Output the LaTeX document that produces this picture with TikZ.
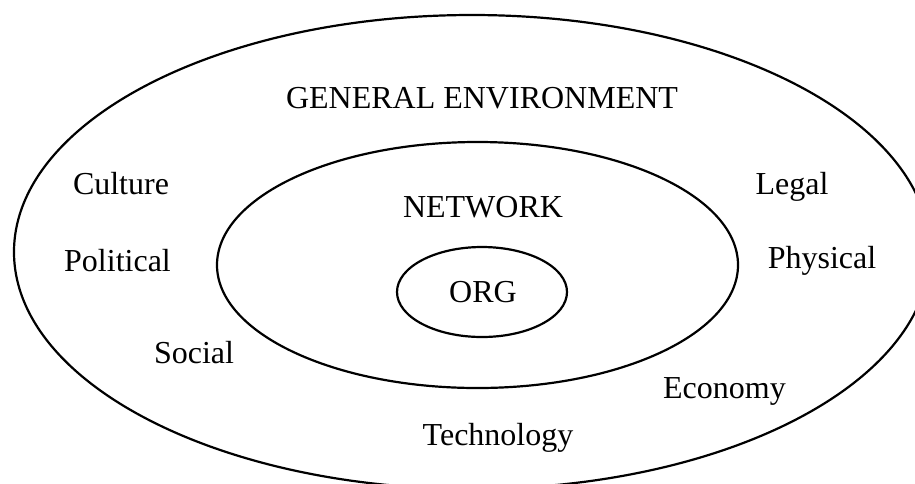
\documentclass[tikz,border=0pt]{standalone}
\usepackage{fontspec}
\setmainfont{Liberation Serif}
\begin{document}
\begin{tikzpicture}[x=1pt, y=-1pt, line width=2.2pt,
  ringtext/.style={anchor=base, inner sep=0pt, font=\fontsize{32}{38}\selectfont}]
  \useasboundingbox (0,0) rectangle (915,483);
  \clip (0,0) rectangle (915,483);

  % Outer ring: general environment
  \begin{scope}
    \draw (472,252) ellipse [x radius=458pt, y radius=237pt];
    \node[ringtext] (general) at (482,108) {GENERAL ENVIRONMENT};
    \foreach \x/\y/\t in {121/194/Culture, 117.5/271/Political, 194/363/Social,
                          498/445/Technology, 724.5/398/Economy,
                          822/268/Physical, 792/194/Legal} {
      \node[ringtext] (\t) at (\x,\y) {\t};
    }
  \end{scope}

  % Middle ring: network
  \begin{scope}
    \draw (477.5,265) ellipse [x radius=260.5pt, y radius=123pt];
    \node[ringtext] (network) at (483,217) {NETWORK};
  \end{scope}

  % Core: organisation
  \begin{scope}
    \draw (482,292) ellipse [x radius=85pt, y radius=45pt];
    \node[ringtext] (org) at (483,302) {ORG};
  \end{scope}
\end{tikzpicture}
\end{document}
